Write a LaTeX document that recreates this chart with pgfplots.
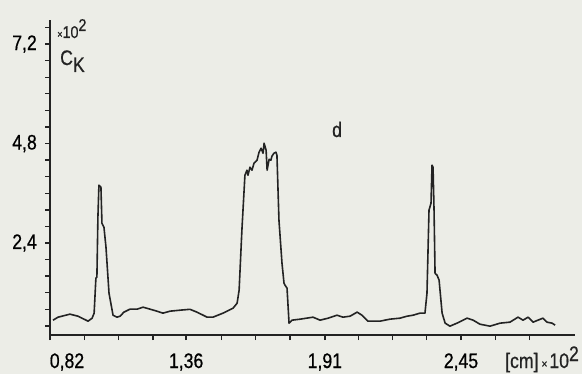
\documentclass[border=0pt]{standalone}
\usepackage{fontspec}
\setmainfont{Liberation Sans}[FakeStretch=0.84,FakeBold=0.6]
\usepackage{pgfplots}
\pgfplotsset{compat=1.18}
\definecolor{bg}{RGB}{236,237,231}
\definecolor{ink}{RGB}{35,35,35}
\begin{document}
\fontsize{21bp}{24bp}\selectfont
\begin{tikzpicture}
\useasboundingbox (0bp,0bp) rectangle (582bp,374bp);
\fill[bg] (0bp,0bp) rectangle (582bp,374bp);
\begin{axis}[
  at={(50bp,39bp)}, anchor=south west,
  scale only axis, width=525bp, height=315bp,
  xmin=0.82, xmax=2.902, ymin=0.18, ymax=7.78,
  axis lines=left, axis line style={-, line width=1.9bp, color=ink},
  tick align=outside, major tick length=5bp, minor tick length=5bp,
  tick style={line width=1.4bp, color=ink},
  xtick={0.82,1.36,1.91,2.45},
  xticklabels={{\hspace*{34bp}0,82},{1,36},{1,91},{2,45}},
  minor xtick={0.956,1.092,1.228,1.499,1.635,1.771,2.043,2.178,2.314,2.586,2.722},
  ytick={2.4,4.8,7.2},
  yticklabels={{2,4},{4,8},{7,2}},
  minor ytick={0.4,0.8,...,7.6},
  xticklabel style={inner sep=0pt, anchor=base, yshift=-28bp},
  yticklabel style={inner sep=0pt, anchor=east, xshift=-8bp},
  clip=false,
]
\addplot[ink, line width=1.6bp, line join=round] coordinates {
(0.832,0.538) (0.852,0.610) (0.899,0.683) (0.931,0.634) (0.971,0.514) (0.987,0.586)
(0.995,0.707) (1.002,1.551) (1.006,1.575) (1.010,3.022) (1.014,3.794) (1.022,3.746)
(1.026,2.877) (1.034,2.779) (1.042,2.299) (1.054,1.189) (1.070,0.658) (1.086,0.610)
(1.098,0.634) (1.113,0.731) (1.137,0.803) (1.165,0.803) (1.189,0.851) (1.217,0.803)
(1.244,0.755) (1.268,0.707) (1.296,0.755) (1.336,0.779) (1.375,0.800) (1.403,0.731)
(1.443,0.610) (1.466,0.610) (1.506,0.707) (1.546,0.827) (1.562,0.948) (1.570,1.261)
(1.581,2.708) (1.593,4.035) (1.601,4.156) (1.605,4.035) (1.613,4.228) (1.621,4.156)
(1.629,4.325) (1.641,4.397) (1.649,4.590) (1.657,4.687) (1.665,4.566) (1.669,4.807)
(1.677,4.638) (1.681,4.156) (1.689,4.421) (1.696,4.397) (1.700,4.493) (1.708,4.566)
(1.716,4.590) (1.720,4.518) (1.728,2.947) (1.740,1.913) (1.748,1.430) (1.752,1.382)
(1.760,1.310) (1.768,0.466) (1.780,0.538) (1.812,0.562) (1.863,0.610) (1.891,0.538)
(1.923,0.586) (1.958,0.658) (1.982,0.610) (2.010,0.634) (2.038,0.731) (2.057,0.658)
(2.081,0.514) (2.129,0.514) (2.168,0.562) (2.208,0.586) (2.236,0.634) (2.260,0.658)
(2.287,0.707) (2.307,0.707) (2.315,1.189) (2.323,3.191) (2.331,3.360) (2.335,4.277)
(2.339,4.228) (2.343,3.191) (2.347,1.671) (2.355,1.623) (2.363,1.503) (2.375,0.707)
(2.387,0.466) (2.406,0.393) (2.434,0.466) (2.474,0.586) (2.498,0.538) (2.525,0.441)
(2.565,0.393) (2.605,0.466) (2.644,0.490) (2.676,0.610) (2.696,0.538) (2.716,0.610)
(2.736,0.490) (2.755,0.538) (2.775,0.586) (2.791,0.490) (2.811,0.466) (2.823,0.417)
};
\end{axis}
\node[anchor=base west, inner sep=0pt, text=ink] at (57bp,336bp)
  {\fontsize{17bp}{20bp}\selectfont{\fontsize{11bp}{12bp}\selectfont×}10\raisebox{7bp}{2}};
\node[anchor=base west, inner sep=0pt, text=ink] at (60bp,309bp) {C\raisebox{-7bp}{K}};
\node[anchor=base west, inner sep=0pt, text=ink] at (332bp,237bp) {d};
\node[anchor=base west, inner sep=0pt, text=ink] at (505bp,6bp)
  {[cm]\hspace{3bp}{\fontsize{12bp}{12bp}\selectfont×}\hspace{2bp}10\raisebox{7bp}{2}};
\end{tikzpicture}
\end{document}
